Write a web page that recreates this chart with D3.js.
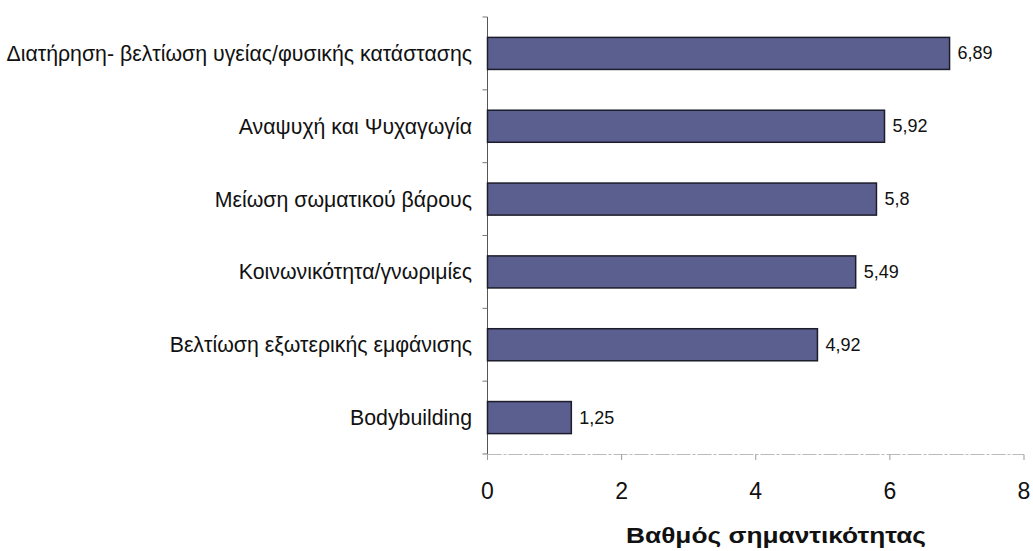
<!DOCTYPE html>
<html><head><meta charset="utf-8">
<script src="https://cdn.jsdelivr.net/npm/d3@7"></script>
<style>body{margin:0;background:#fff}svg{display:block}text{font-family:"Liberation Sans",Arial,sans-serif}</style>
</head><body>
<svg id="c" width="1033" height="551"></svg>
<script>
const categories = ["Διατήρηση- βελτίωση υγείας/φυσικής κατάστασης","Αναψυχή και Ψυχαγωγία","Μείωση σωματικού βάρους","Κοινωνικότητα/γνωριμίες","Βελτίωση εξωτερικής εμφάνισης","Bodybuilding"];
const values = [6.89,5.92,5.8,5.49,4.92,1.25];
const xTicks = [0,2,4,6,8];
const xTitle = "Βαθμός σημαντικότητας";

const svg = d3.select("#c");
const x = d3.scaleLinear().domain([0,8]).range([487.5,1024]);
const y = d3.scaleBand().domain(categories).range([17,454]).paddingInner(0.56).paddingOuter(0.28);
const fmt = v => String(v).replace(".", ",");

// y axis line + ticks at band boundaries
const step = y.step();
const yb = d3.range(categories.length+1).map(i => 17 + i*step);
svg.append("line").attr("x1",x(0)).attr("x2",x(0)).attr("y1",17).attr("y2",454).attr("stroke","#555").attr("stroke-width",1);
svg.selectAll(".yt").data(yb).join("line").attr("x1",x(0)-5).attr("x2",x(0)).attr("y1",d=>d).attr("y2",d=>d).attr("stroke","#777");

// x axis
svg.append("line").attr("x1",x(0)).attr("x2",x(8)).attr("y1",454.5).attr("y2",454.5).attr("stroke","#bbb").attr("stroke-dasharray","14,2,3,2");
svg.selectAll(".xt").data(xTicks).join("line").attr("x1",d=>x(d)).attr("x2",d=>x(d)).attr("y1",454.5).attr("y2",460).attr("stroke","#999");
svg.selectAll(".xl").data(xTicks).join("text").attr("x",d=>x(d)).attr("y",499).attr("text-anchor","middle").attr("font-size",23).attr("fill","#111").text(d=>d);
svg.append("text").attr("x",776).attr("y",543).attr("text-anchor","middle").attr("font-size",22).attr("font-weight","bold").attr("fill","#111")
  .attr("textLength",300).attr("lengthAdjust","spacingAndGlyphs").text(xTitle);

// bars
svg.selectAll(".bar").data(values).join("rect")
  .attr("x",x(0)).attr("y",(d,i)=>y(categories[i]))
  .attr("width",d=>x(d)-x(0)).attr("height",y.bandwidth())
  .attr("fill","#5b5f8f").attr("stroke","#1c1c2a").attr("stroke-width",1.5);

// value labels
svg.selectAll(".vl").data(values).join("text")
  .attr("x",d=>x(d)+8).attr("y",(d,i)=>y(categories[i])+y.bandwidth()/2+6)
  .attr("font-size",18).attr("fill","#111").text(fmt);

// category labels
svg.selectAll(".cl").data(categories).join("text")
  .attr("x",472).attr("y",d=>y(d)+y.bandwidth()/2+7.5)
  .attr("text-anchor","end").attr("font-size",21.3).attr("fill","#111").text(d=>d);
</script>
</body></html>
